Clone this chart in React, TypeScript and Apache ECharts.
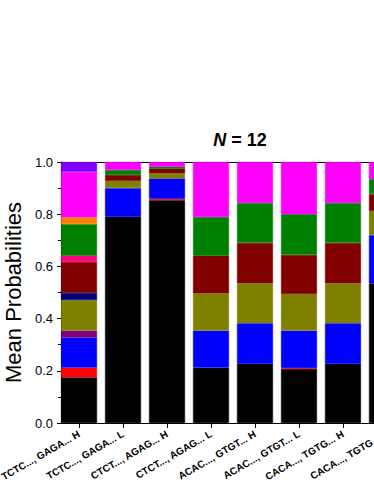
import React, { useEffect, useRef } from "react";
import * as echarts from "echarts";

const categories = [
  "TCTC..., GAGA... H",
  "TCTC..., GAGA... L",
  "CTCT..., AGAG... H",
  "CTCT..., AGAG... L",
  "ACAC..., GTGT... H",
  "ACAC..., GTGT... L",
  "CACA..., TGTG... H",
  "CACA..., TGTG... L",
];

const seriesNames = [
  "Black", "Red", "Blue", "Purple", "Olive", "Navy",
  "Wine", "Pink", "Green", "Orange", "Magenta", "Violet",
];

const seriesColors = [
  "#000000", "#FF0000", "#0000FF", "#800080", "#808000", "#000080",
  "#800000", "#FF0080", "#008000", "#FF8000", "#FF00FF", "#8000FF",
];

// per-series mean probabilities for each category
const blackVals = [0.175, 0.79, 0.854, 0.212, 0.227, 0.207, 0.227, 0.535];
const redVals = [0.037, 0, 0.005, 0, 0, 0.004, 0, 0];
const blueVals = [0.116, 0.11, 0.078, 0.142, 0.155, 0.143, 0.155, 0.185];
const purpleVals = [0.026, 0, 0, 0, 0, 0, 0, 0];
const oliveVals = [0.117, 0.028, 0.02, 0.143, 0.153, 0.14, 0.153, 0.092];
const navyVals = [0.027, 0, 0, 0, 0, 0, 0, 0];
const wineVals = [0.119, 0.022, 0.017, 0.144, 0.155, 0.15, 0.155, 0.065];
const pinkVals = [0.024, 0, 0, 0, 0, 0, 0, 0];
const greenVals = [0.121, 0.02, 0.008, 0.148, 0.153, 0.156, 0.153, 0.057];
const orangeVals = [0.026, 0, 0, 0, 0, 0, 0, 0];
const magentaVals = [0.174, 0.03, 0.018, 0.211, 0.157, 0.2, 0.157, 0.066];
const violetVals = [0.038, 0, 0, 0, 0, 0, 0, 0];

const seriesValues = [
  blackVals, redVals, blueVals, purpleVals, oliveVals, navyVals,
  wineVals, pinkVals, greenVals, orangeVals, magentaVals, violetVals,
];

const yTicks = [0, 0.2, 0.4, 0.6, 0.8, 1.0];

const FONT = "Arial, 'Liberation Sans', sans-serif";

export default function App() {
  const ref = useRef<HTMLDivElement>(null);

  useEffect(() => {
    if (!ref.current) return;
    const chart = echarts.init(ref.current, null, { renderer: "svg" });
    const idx = categories.map((_, i) => i);

    const option: any = {
      animation: false,
      backgroundColor: "#ffffff",
      textStyle: { fontFamily: FONT },
      grid: {
        left: 61,
        top: 162,
        width: 344,
        height: 261,
        containLabel: false,
        outerBoundsMode: "none",
      },
      graphic: [
        {
          type: "text",
          x: 240,
          y: 140,
          style: {
            text: "{i|N} = 12",
            fontFamily: FONT,
            fontSize: 18,
            fontWeight: "bold",
            fill: "#000",
            align: "center",
            verticalAlign: "middle",
            rich: {
              i: { fontFamily: FONT, fontSize: 18, fontWeight: "bold", fontStyle: "italic" },
            },
          },
        },
      ],
      xAxis: [
        {
          type: "value",
          position: "bottom",
          min: -0.41,
          max: 7.41,
          splitLine: { show: false },
          axisLine: { show: true, onZero: false, lineStyle: { color: "#000", width: 1 } },
          axisTick: {
            show: true,
            inside: false,
            length: 5,
            customValues: idx,
            lineStyle: { color: "#000" },
          },
          axisLabel: {
            show: true,
            customValues: idx,
            rotate: 30,
            margin: 10,
            fontSize: 10,
            fontWeight: "bold",
            fontFamily: FONT,
            color: "#000",
            hideOverlap: false,
            formatter: (v: number) => categories[Math.round(v)] ?? "",
          },
        },
        {
          type: "value",
          position: "top",
          min: -0.41,
          max: 7.41,
          splitLine: { show: false },
          axisLine: { show: true, onZero: false, lineStyle: { color: "#000", width: 1 } },
          axisTick: {
            show: true,
            inside: true,
            length: 4,
            customValues: idx,
            lineStyle: { color: "#000" },
          },
          axisLabel: { show: false },
        },
      ],
      yAxis: {
        type: "value",
        min: 0,
        max: 1,
        interval: 0.2,
        name: "Mean Probabilities",
        nameLocation: "middle",
        nameGap: 27,
        nameTextStyle: { fontSize: 22, fontFamily: FONT, color: "#000" },
        splitLine: { show: false },
        axisLine: { show: true, onZero: false, lineStyle: { color: "#000", width: 1 } },
        axisTick: { show: true, inside: false, length: 4, lineStyle: { color: "#000" } },
        minorTick: { show: true, splitNumber: 2, length: 3, lineStyle: { color: "#000" } },
        axisLabel: {
          fontSize: 13,
          fontFamily: FONT,
          color: "#000",
          margin: 8,
          formatter: (v: number) => (yTicks.includes(Number(v.toFixed(1))) ? v.toFixed(1) : ""),
        },
      },
      series: seriesNames.map((name, s) => ({
        name,
        type: "bar",
        stack: "total",
        xAxisIndex: 0,
        barWidth: 36,
        encode: { x: 1, y: 0 },
        itemStyle: { color: seriesColors[s] },
        data: seriesValues[s].map((v, i) => ({
          value: [v, i],
          itemStyle: v > 0 ? { borderWidth: 0.6, borderColor: seriesColors[s] } : { borderWidth: 0 },
        })),
      })),
    };

    chart.setOption(option);
    return () => chart.dispose();
  }, []);

  return (
    <div
      style={{
        position: "fixed",
        left: 0,
        top: 0,
        width: 374,
        height: 484,
        overflow: "hidden",
        background: "#fff",
      }}
    >
      <div ref={ref} style={{ width: 420, height: 484 }} />
    </div>
  );
}
